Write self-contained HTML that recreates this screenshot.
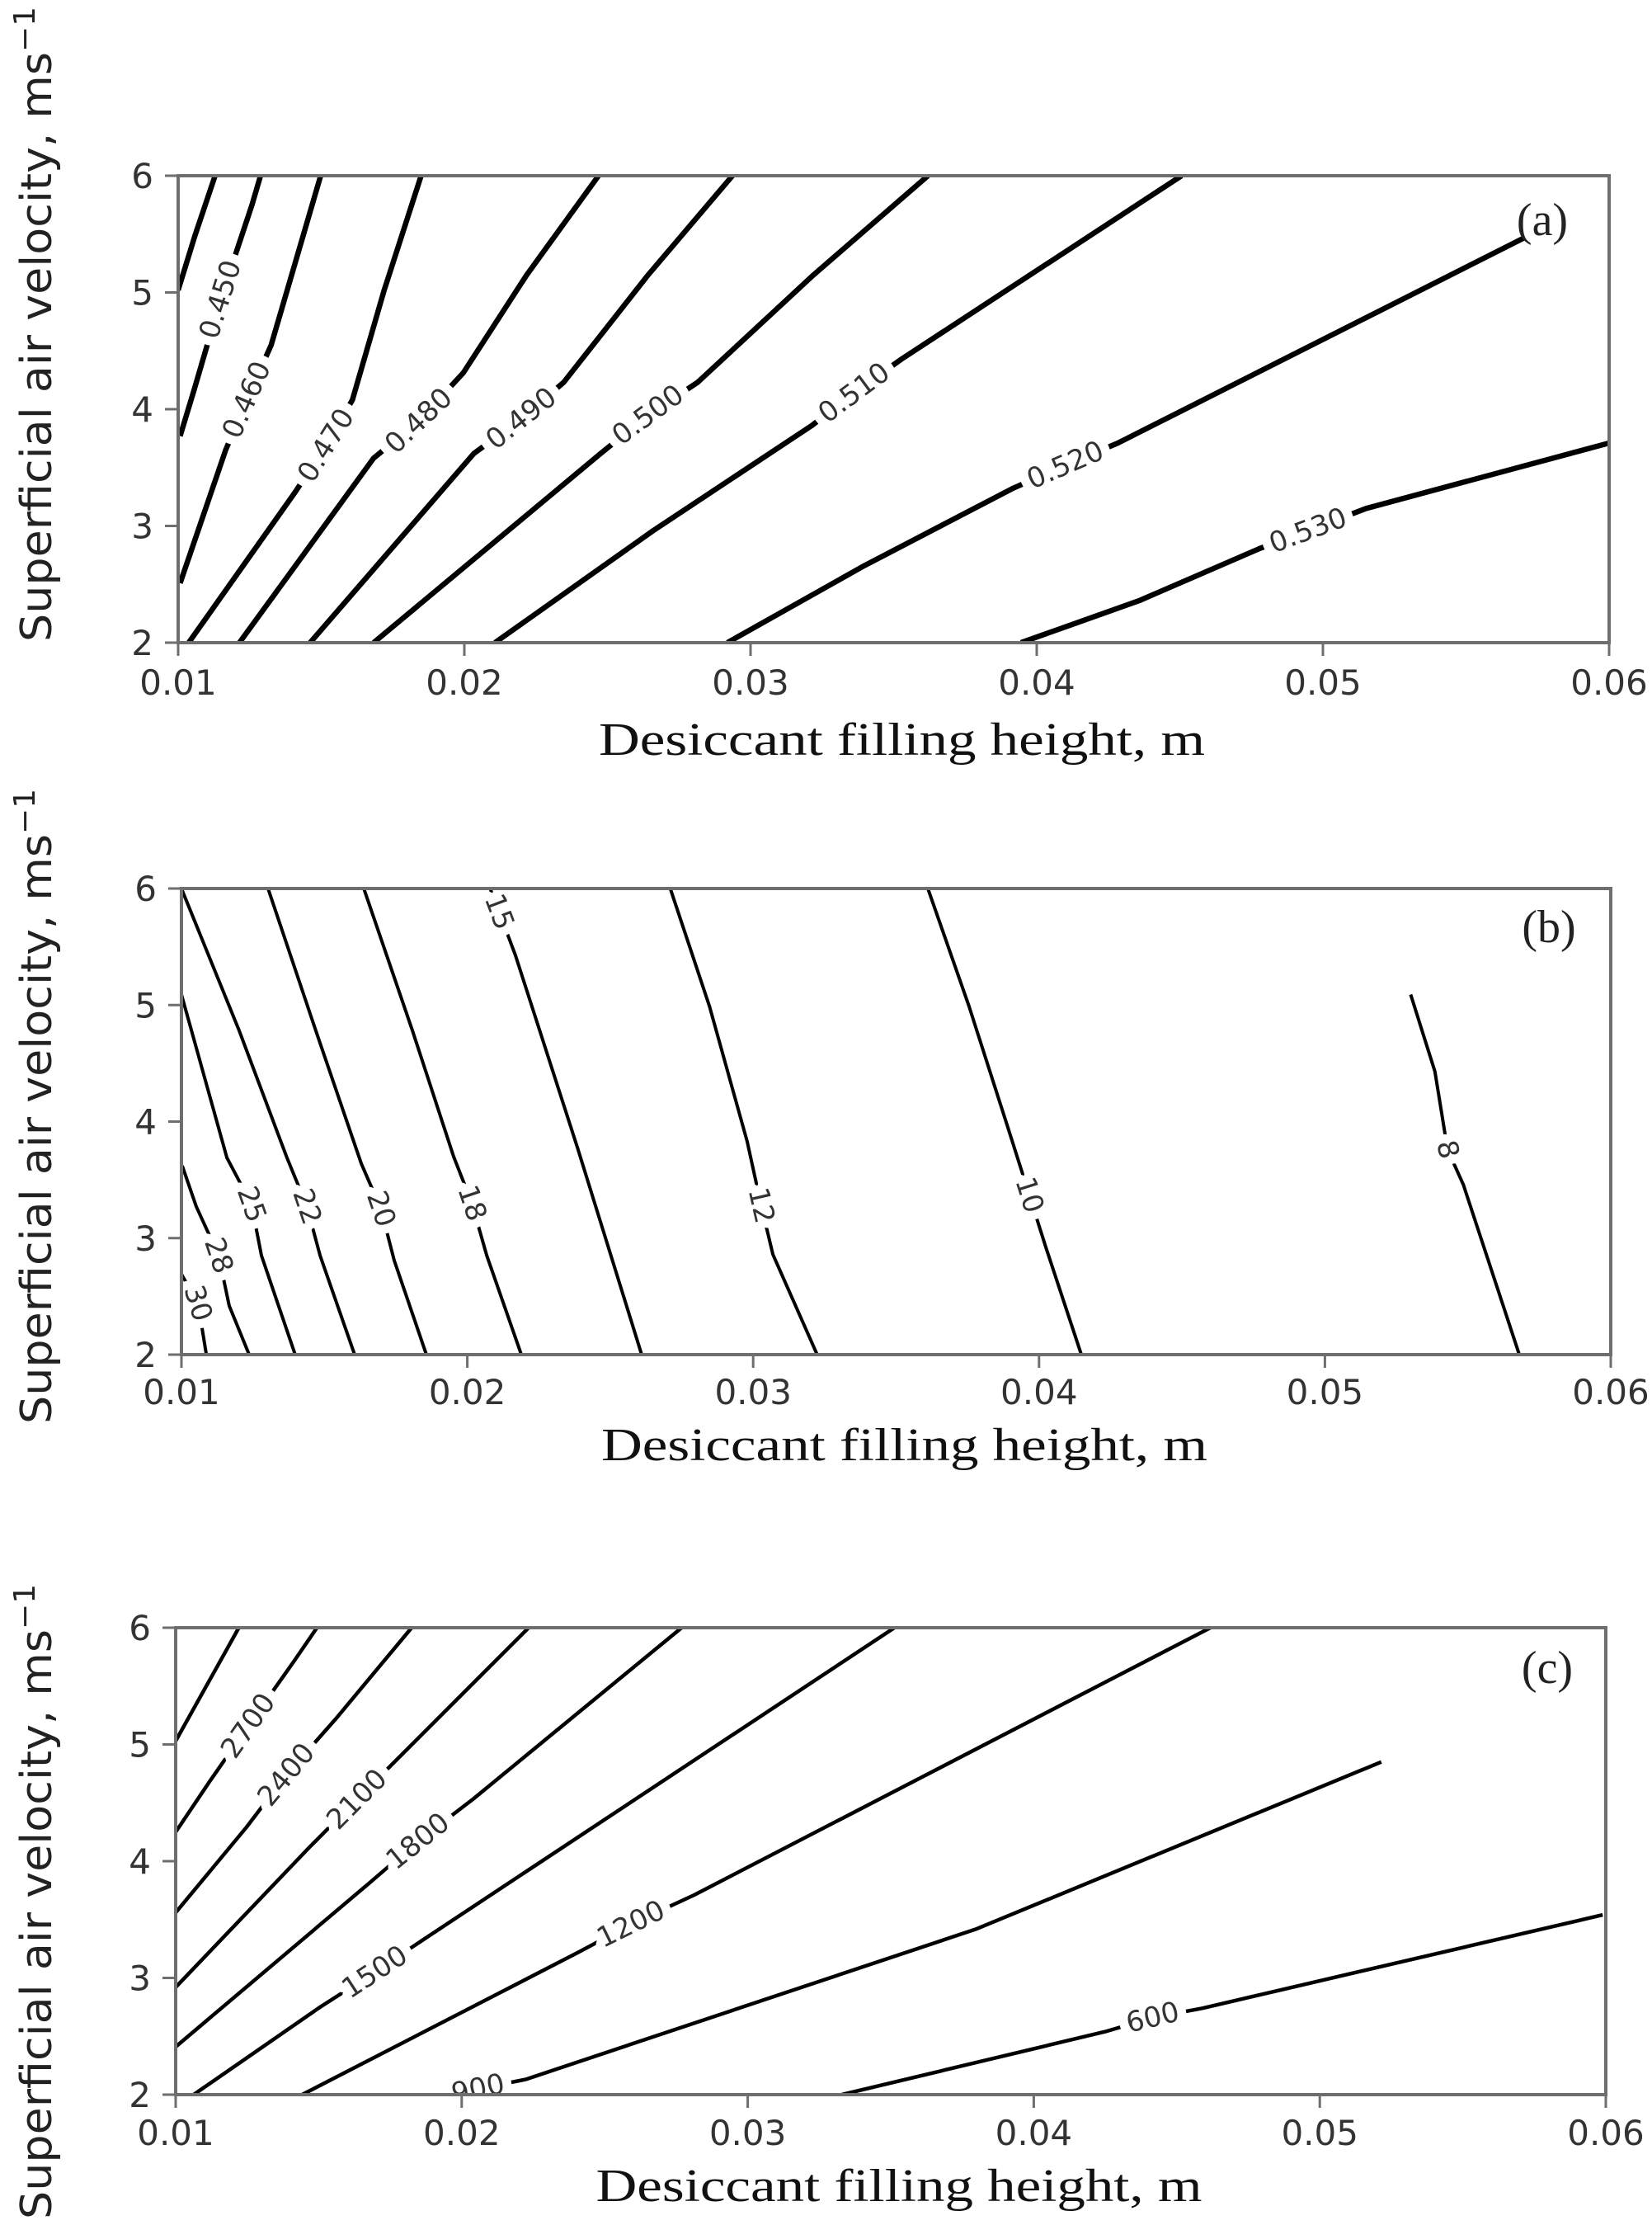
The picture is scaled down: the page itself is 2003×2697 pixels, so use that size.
<!DOCTYPE html>
<html><head><meta charset="utf-8"><style>
html,body{margin:0;padding:0;background:#fff;}
svg{display:block;}
</style></head><body>
<svg id="fig" width="2003" height="2697" viewBox="0 0 2003 2697" xmlns="http://www.w3.org/2000/svg"></svg>
<script>
// ---------- Panel (a) data ----------
const aLevels = ["", "0.450", "0.460", "0.470", "0.480", "0.490", "0.500", "0.510", "0.520", "0.530"];
const aLabelIdx = [-1, 2, 2, 2, 2, 2, 2, 3, 3, 3];
const aLines = [
  [[0.0100,5.02],[0.01059,5.49],[0.01129,6]],
  [[0.01007,3.77],[0.01055,4.16],[0.01148,4.94],[0.01258,5.75],[0.01288,6]],
  [[0.01007,2.51],[0.01166,3.65],[0.0124,4.08],[0.01325,4.55],[0.01498,6]],
  [[0.01037,2],[0.01406,3.28],[0.01517,3.69],[0.01609,4.08],[0.0172,5.02],[0.01849,6]],
  [[0.01214,2],[0.01683,3.58],[0.01841,3.90],[0.01996,4.31],[0.02218,5.15],[0.02469,6]],
  [[0.01461,2],[0.02033,3.62],[0.02199,3.92],[0.02347,4.23],[0.02642,5.15],[0.02937,6]],
  [[0.01683,2],[0.02476,3.62],[0.02642,3.95],[0.02815,4.23],[0.0322,5.15],[0.0362,6]],
  [[0.02107,2],[0.0266,2.96],[0.03214,3.86],[0.03362,4.14],[0.03528,4.43],[0.04506,6]],
  [[0.02919,2],[0.03398,2.66],[0.03915,3.32],[0.041,3.52],[0.04284,3.71],[0.05705,5.47]],
  [[0.03945,2],[0.04358,2.36],[0.04782,2.81],[0.04948,2.96],[0.05151,3.15],[0.06,3.71]]
];
// ---------- Panel (b) data ----------
const bLevels = ["30", "28", "25", "22", "20", "18", "15", "12", "10", "8"];
const bLabelIdx = [1, 2, 2, 3, 3, 3, 1, 3, 3, 2];
const bLines = [
  [[0.0100,2.69],[0.01058,2.44],[0.01087,2.0]],
  [[0.01003,3.62],[0.01052,3.27],[0.0113,2.85],[0.01167,2.42],[0.01237,2]],
  [[0.0100,5.09],[0.01159,3.69],[0.01245,3.29],[0.0128,2.85],[0.01398,2]],
  [[0.0100,6],[0.01202,4.78],[0.01369,3.69],[0.01439,3.27],[0.01485,2.85],[0.01606,2]],
  [[0.01303,6],[0.0147,4.78],[0.01629,3.64],[0.01698,3.25],[0.01744,2.81],[0.01857,2]],
  [[0.01638,6],[0.01808,4.78],[0.01952,3.70],[0.02016,3.30],[0.02068,2.85],[0.02189,2]],
  [[0.0208,6],[0.02111,5.80],[0.02168,5.43],[0.02385,3.78],[0.0261,2]],
  [[0.0271,6],[0.02847,4.99],[0.02979,3.83],[0.03028,3.28],[0.03069,2.86],[0.03224,2]],
  [[0.03611,6],[0.03755,4.99],[0.03891,3.95],[0.03966,3.37],[0.04024,2.92],[0.04148,2]],
  [[0.0530,5.09],[0.05385,4.43],[0.05429,3.76],[0.05484,3.46],[0.0568,2]]
];
// ---------- Panel (c) data ----------
const cLevels = ["", "2700", "2400", "2100", "1800", "1500", "1200", "900", "600"];
const cLabelIdx = [-1, 2, 2, 2, 2, 2, 2, 1, 2];
const cLines = [
  [[0.0100,5.03],[0.01221,6]],
  [[0.0100,4.25],[0.01118,4.68],[0.01254,5.16],[0.01413,5.71],[0.01494,6]],
  [[0.0100,3.56],[0.01247,4.29],[0.01387,4.74],[0.0156,5.22],[0.01825,6]],
  [[0.0100,2.92],[0.01468,4.12],[0.01634,4.53],[0.01818,4.98],[0.02234,6]],
  [[0.0100,2.41],[0.01671,3.80],[0.01847,4.17],[0.02039,4.53],[0.02769,6]],
  [[0.01063,2],[0.01505,2.75],[0.01696,3.05],[0.01892,3.37],[0.03513,6]],
  [[0.01442,2],[0.02408,3.22],[0.02592,3.46],[0.02813,3.71],[0.04618,6]],
  [[0.01965,2],[0.02057,2.05],[0.02223,2.13],[0.0380,3.42],[0.05215,4.85]],
  [[0.03329,2],[0.0425,2.54],[0.04416,2.66],[0.04589,2.74],[0.05989,3.54]]
];
const xTicks = [0.01, 0.02, 0.03, 0.04, 0.05, 0.06];
const xTickLabels = ["0.01", "0.02", "0.03", "0.04", "0.05", "0.06"];
const yTicks = [2, 3, 4, 5, 6];
const yTickLabels = ["2", "3", "4", "5", "6"];

const NS = "http://www.w3.org/2000/svg";
const svg = document.getElementById("fig");
function mk(tag, attrs, parent) {
  const e = document.createElementNS(NS, tag);
  for (const k in attrs) e.setAttribute(k, attrs[k]);
  (parent || svg).appendChild(e);
  return e;
}

const panels = [
  {id:"a", L:216, R:1951, T:213, B:779, lines:aLines, levels:aLevels, idx:aLabelIdx, lw:6.5, tag:"(a)", tagX:1870, tagY:285, xlabY:915, ylabEnd:778, tickY:842},
  {id:"b", L:220, R:1953, T:1077, B:1642, lines:bLines, levels:bLevels, idx:bLabelIdx, lw:4, tag:"(b)", tagX:1878, tagY:1142, xlabY:1770, ylabEnd:1726, tickY:1702},
  {id:"c", L:213, R:1947, T:1973, B:2539, lines:cLines, levels:cLevels, idx:cLabelIdx, lw:4.5, tag:"(c)", tagX:1876, tagY:2040, xlabY:2668, ylabEnd:2690, tickY:2600}
];

panels.forEach(p => {
  const g = mk("g", {});
  
  
  const sx = v => p.L + (v - 0.01) / 0.05 * (p.R - p.L);
  const sy = v => p.B - (v - 2) / 4 * (p.B - p.T);
  const cp = mk("clipPath", {id: "clip" + p.id}, g);
  mk("rect", {x: p.L, y: p.T, width: p.R - p.L, height: p.B - p.T}, cp);
  const cg = mk("g", {"clip-path": "url(#clip" + p.id + ")"}, g);
  
  
  p.lines.forEach((ln, i) => {
    const pts = ln.map(q => sx(q[0]).toFixed(1) + "," + sy(q[1]).toFixed(1)).join(" ");
    const pl = mk("polyline", {points: pts, fill: "none", stroke: "#000", "stroke-width": p.lw, "stroke-linejoin": "round", "stroke-linecap": "butt"}, cg);
    
    
  });
  p.lines.forEach((ln, i) => {
    const k = p.idx[i];
    if (k < 0 || !p.levels[i]) return;
    const a = ln[Math.max(k - 1, 0)], b = ln[Math.min(k + 1, ln.length - 1)];
    let ang = Math.atan2(sy(b[1]) - sy(a[1]), sx(b[0]) - sx(a[0])) * 180 / Math.PI;
    if (ang > 90) ang -= 180;
    if (ang < -90) ang += 180;
    const cx = sx(ln[k][0]), cy = sy(ln[k][1]);
    const t = mk("text", {x: cx, y: cy, "text-anchor": "middle", "dominant-baseline": "central",
      transform: "rotate(" + ang.toFixed(1) + " " + cx.toFixed(1) + " " + cy.toFixed(1) + ")",
      "font-family": "DejaVu Sans, Liberation Sans, sans-serif", "font-size": 34, fill: "#333",
      stroke: "#fff", "stroke-width": 22, "paint-order": "stroke", "stroke-linejoin": "round"}, cg);
    t.textContent = p.levels[i];
    
    
  });
  const fr = mk("rect", {x: p.L, y: p.T, width: p.R - p.L, height: p.B - p.T, fill: "none", stroke: "#6e6e6e", "stroke-width": 4}, g);
  
  
  xTicks.forEach((v, i) => {
    const x = sx(v);
    const tk = mk("line", {x1: x, y1: p.B, x2: x, y2: p.B + 16, stroke: "#6e6e6e", "stroke-width": 3}, g);
    
    
    const tl = mk("text", {x: x, y: p.tickY, "text-anchor": "middle", "font-family": "DejaVu Sans, Liberation Sans, sans-serif", "font-size": 42, fill: "#333"}, g);
    tl.textContent = xTickLabels[i];
    
    
  });
  yTicks.forEach((v, i) => {
    const y = sy(v);
    const tk = mk("line", {x1: p.L - 16, y1: y, x2: p.L, y2: y, stroke: "#6e6e6e", "stroke-width": 3}, g);
    
    
    const tl = mk("text", {x: p.L - 30, y: y + 15, "text-anchor": "end", "font-family": "DejaVu Sans, Liberation Sans, sans-serif", "font-size": 42, fill: "#333"}, g);
    tl.textContent = yTickLabels[i];
    
    
  });
  const tg = mk("text", {x: p.tagX, y: p.tagY, "text-anchor": "middle", "font-family": "Liberation Serif, serif", "font-size": 56, fill: "#222"}, g);
  tg.textContent = p.tag;
  
  
  const xl = mk("text", {x: (p.L + p.R) / 2 + 10, y: p.xlabY, "text-anchor": "middle", "font-family": "Liberation Serif, serif", "font-size": 56, fill: "#111", textLength: 735, lengthAdjust: "spacingAndGlyphs"}, g);
  xl.textContent = "Desiccant filling height, m";
  
  
  const yl = mk("text", {x: 0, y: 0, "text-anchor": "start", "font-family": "DejaVu Sans, Liberation Sans, sans-serif", "font-size": 52, fill: "#222",
    textLength: 770, lengthAdjust: "spacingAndGlyphs",
    transform: "translate(62," + p.ylabEnd + ") rotate(-90)"}, g);
  
  
  yl.appendChild(document.createTextNode("Superficial air velocity, ms"));
  const sup = mk("tspan", {dy: -20, "font-size": 36}, yl);
  sup.textContent = "\u22121";
});
</script>
</body></html>
